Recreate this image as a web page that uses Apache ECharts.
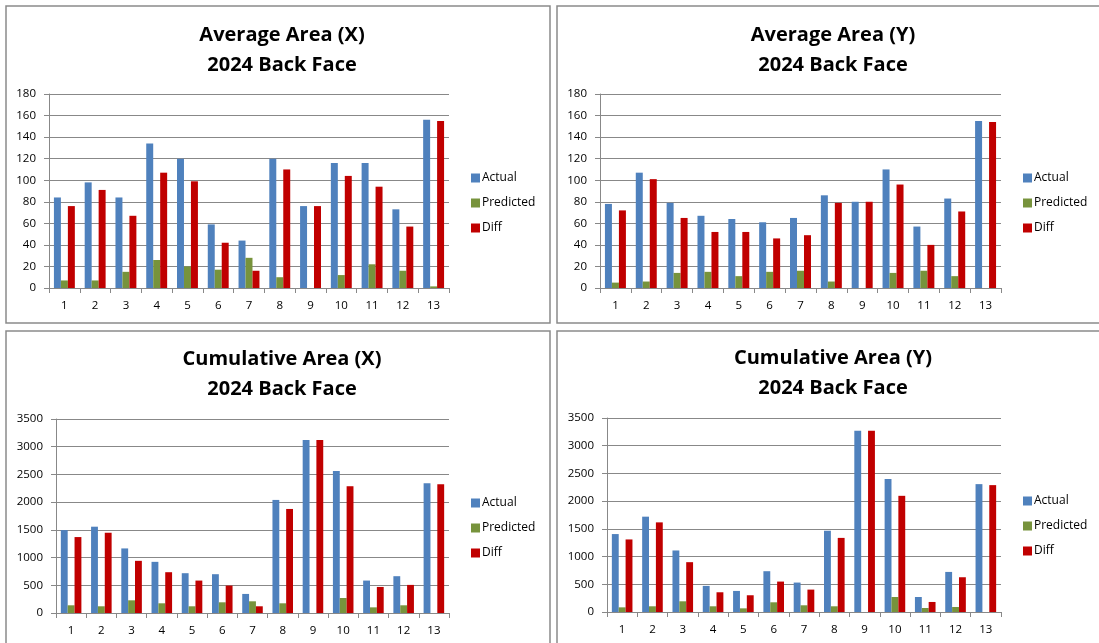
<!DOCTYPE html>
<html>
<head>
<meta charset="utf-8">
<script src="https://cdn.jsdelivr.net/npm/echarts@6/dist/echarts.min.js"></script>
<style>
html,body{margin:0;padding:0;background:#fff;}
#c{width:1099px;height:643px;}
</style>
</head>
<body>
<div id="c"></div>
<script>
var categories = ['1','2','3','4','5','6','7','8','9','10','11','12','13'];
var seriesNames = ['Actual','Predicted','Diff'];

var avgXActual    = [84, 98, 84, 134, 120, 59, 44, 120, 76, 116, 116, 73, 156];
var avgXPredicted = [7, 7, 15, 26, 20, 17, 28, 10, 0, 12, 22, 16, 1.5];
var avgXDiff      = [76, 91, 67, 107, 99, 42, 16, 110, 76, 104, 94, 57, 155];

var avgYActual    = [78, 107, 79, 67, 64, 61, 65, 86, 80, 110, 57, 83, 155];
var avgYPredicted = [5, 6, 14, 15, 11, 15, 16, 6, 0, 14, 16, 11, 0];
var avgYDiff      = [72, 101, 65, 52, 52, 46, 49, 79, 80, 96, 40, 71, 154];

var cumXActual    = [1496, 1557, 1165, 923, 718, 700, 344, 2040, 3121, 2564, 585, 664, 2341];
var cumXPredicted = [139, 121, 229, 175, 121, 193, 211, 175, 0, 271, 102, 139, 0];
var cumXDiff      = [1370, 1448, 941, 736, 585, 495, 121, 1877, 3121, 2287, 470, 507, 2323];

var cumYActual    = [1406, 1720, 1110, 471, 380, 736, 531, 1466, 3271, 2398, 271, 723, 2307];
var cumYPredicted = [84, 103, 193, 103, 66, 175, 121, 103, 0, 271, 72, 90, 0];
var cumYDiff      = [1309, 1617, 899, 356, 302, 549, 404, 1337, 3271, 2096, 181, 627, 2289];

var titles = ['Average Area (X)\n2024 Back Face', 'Average Area (Y)\n2024 Back Face',
              'Cumulative Area (X)\n2024 Back Face', 'Cumulative Area (Y)\n2024 Back Face'];
var yMax = [180, 180, 3500, 3500];
var yInterval = [20, 20, 500, 500];

var panels = [
  [avgXActual, avgXPredicted, avgXDiff],
  [avgYActual, avgYPredicted, avgYDiff],
  [cumXActual, cumXPredicted, cumXDiff],
  [cumYActual, cumYPredicted, cumYDiff]
];

var colors = ['#4F81BD', '#77933C', '#C00000'];
var FONT = '"Open Sans", "Noto Sans", sans-serif';
var gray = '#888888';

var gridPos = [
  {left: 49, top: 94, width: 400, height: 194},
  {left: 600, top: 94, width: 401, height: 194},
  {left: 56, top: 419, width: 393, height: 194},
  {left: 607, top: 418, width: 394, height: 194}
];
var titlePos = [
  {x: 277, y: 15}, {x: 828, y: 15}, {x: 277, y: 339}, {x: 828, y: 338}
];
var legendPos = [
  {x: 466, y: 166}, {x: 1018, y: 166}, {x: 466, y: 491}, {x: 1018, y: 489}
];
var boxes = [
  {x: 6, y: 6, w: 544, h: 317},
  {x: 557, y: 6, w: 560, h: 317},
  {x: 6, y: 331, w: 544, h: 330},
  {x: 557, y: 331, w: 560, h: 330}
];

var grids = [], xAxes = [], yAxes = [], series = [], titleArr = [], legends = [], graphics = [];
for (var p = 0; p < 4; p++) {
  grids.push({left: gridPos[p].left, top: gridPos[p].top, width: gridPos[p].width, height: gridPos[p].height});
  xAxes.push({
    type: 'category', gridIndex: p, data: categories,
    axisLine: {show: true, lineStyle: {color: gray, width: 1}},
    axisTick: {show: true, alignWithLabel: false, length: 5, lineStyle: {color: gray}},
    axisLabel: {color: '#000', fontSize: 11.5, fontFamily: FONT, margin: 12}
  });
  yAxes.push({
    type: 'value', gridIndex: p, min: 0, max: yMax[p], interval: yInterval[p],
    axisLine: {show: true, lineStyle: {color: gray, width: 1}},
    axisTick: {show: true, length: 5, lineStyle: {color: gray}},
    axisLabel: {color: '#000', fontSize: 11.5, fontFamily: FONT, margin: 13,
                formatter: function (v) { return String(v); }},
    splitLine: {show: true, lineStyle: {color: gray, width: 1}}
  });
  for (var s = 0; s < 3; s++) {
    series.push({
      type: 'bar', name: seriesNames[s], xAxisIndex: p, yAxisIndex: p,
      data: panels[p][s], barGap: '0%', barCategoryGap: '32%',
      itemStyle: {color: colors[s]}, animation: false
    });
  }
  titleArr.push({
    text: titles[p], left: titlePos[p].x, top: titlePos[p].y, textAlign: 'center',
    textStyle: {fontSize: 20, fontWeight: 'bold', color: '#000', fontFamily: FONT, lineHeight: 30}
  });
  legends.push({
    orient: 'vertical', left: legendPos[p].x, top: legendPos[p].y,
    data: seriesNames, icon: 'rect', itemWidth: 9, itemHeight: 9, itemGap: 11,
    textStyle: {fontSize: 12, color: '#000', fontFamily: FONT, lineHeight: 14, padding: [0,0,0,-3]}
  });
  graphics.push({
    type: 'rect', silent: true,
    shape: {x: boxes[p].x, y: boxes[p].y, width: boxes[p].w, height: boxes[p].h},
    style: {fill: 'none', stroke: '#8a8a8a', lineWidth: 1.5}
  });
}

var chart = echarts.init(document.getElementById('c'), null, {renderer: 'canvas'});
chart.setOption({
  animation: false,
  backgroundColor: '#fff',
  title: titleArr,
  legend: legends,
  grid: grids,
  xAxis: xAxes,
  yAxis: yAxes,
  series: series,
  graphic: graphics
});
</script>
</body>
</html>
